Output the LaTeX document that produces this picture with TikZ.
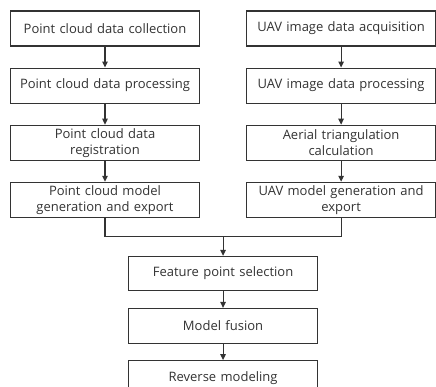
\documentclass[tikz,border=0pt]{standalone}
\usepackage{fontspec}
\setmainfont{Open Sans}
\usetikzlibrary{arrows.meta, positioning, calc}

\begin{document}
\begin{tikzpicture}[
      x=1pt, y=1pt,
      node distance=21pt and 46pt,
      box/.style={draw=black!80, line width=1.1pt,
                  minimum width=189pt, minimum height=35pt,
                  text width=186pt, align=center, inner sep=1pt,
                  font=\fontsize{13}{16}\selectfont, text=black!80, fill=white},
      line/.style={draw=black!80, line width=1.1pt},
      >={Triangle[length=6pt, width=5.5pt]}
    ]
    \useasboundingbox (0,0) rectangle (436,-386);
    % left column: point cloud
    \node[box] (pc1) at (105,-28.5) {Point cloud data collection};
    \node[box, below=of pc1] (pc2) {Point cloud data processing};
    \node[box, below=of pc2] (pc3) {Point cloud data\\registration};
    \node[box, below=of pc3] (pc4) {Point cloud model\\generation and export};
    % right column: UAV images
    \node[box, right=of pc1] (uav1) {UAV image data acquisition};
    \node[box, below=of uav1] (uav2) {UAV image data processing};
    \node[box, below=of uav2] (uav3) {Aerial triangulation\\calculation};
    \node[box, below=of uav3] (uav4) {UAV model generation and\\export};
    % junction
    \coordinate[below=19pt of pc4.south] (pcend);
    \coordinate[below=19pt of uav4.south] (uavend);
    \coordinate (join) at ($(pcend)!0.5!(uavend)$);
    % common steps
    \node[box, below=19pt of join, minimum height=34pt] (feat) {Feature point selection};
    \node[box, below=17pt of feat] (fusion) {Model fusion};
    \node[box, below=16pt of fusion] (rev) {Reverse modeling};
    \foreach \a/\b in {pc1/pc2, pc2/pc3, pc3/pc4, uav1/uav2, uav2/uav3, uav3/uav4, feat/fusion, fusion/rev}
      \draw[line, ->] (\a) -- (\b);
    \draw[line] (pc4) -- (pcend) -- (uavend) -- (uav4);
    \draw[line, ->] (join) -- (feat);
  \end{tikzpicture}
\end{document}
